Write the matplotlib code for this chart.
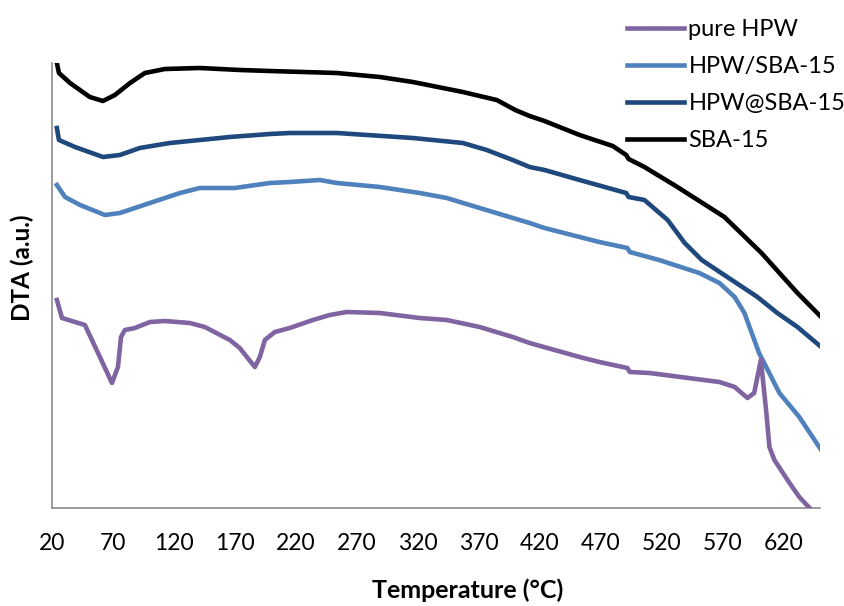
import matplotlib.pyplot as plt

plt.rcParams['font.family'] = ['Lato', 'DejaVu Sans']

# temperature (°C) and DTA signal (a.u.)
t_sba = [24, 25.7, 34.8, 51, 61.8, 71.6, 84, 96.2, 112.6, 141.3, 174.1, 198.7, 253.6,
         288.9, 316, 357, 384.8, 400, 411.8, 424, 452.8, 480, 491, 493, 506, 533, 571.6,
         602, 631.5, 651]
y_sba = [445, 435, 425, 411, 407, 413, 425, 435, 439, 440, 438, 437, 435,
         431, 426, 416, 408, 398, 392, 387, 373, 362, 353, 349, 341, 321, 291,
         255, 215, 191]

t_at = [24, 25.7, 38.9, 61.8, 75.7, 92, 116.7, 141.3, 165.9, 198.7, 215, 253.6, 316,
        357, 376.6, 397.9, 411.8, 424, 452.8, 491, 493, 506, 525, 539, 553, 569,
        598.7, 615, 631.5, 651]
y_at = [380, 368, 361, 351, 353, 360, 365, 368, 371, 374, 375, 375, 370,
        365, 358, 348, 341, 338, 328, 315, 311, 308, 288, 265, 248, 235,
        211, 195, 181, 161]

t_slash = [24, 30.7, 43, 63.4, 75.7, 100.3, 125, 141.3, 170, 198.7, 215, 239.7, 253.6,
           288.9, 321.6, 343.8, 370.8, 411.8, 424, 452.8, 469, 492, 494, 518, 551,
           567.5, 580, 588, 600, 616.7, 633, 651]
y_slash = [323, 311, 303, 293, 295, 305, 315, 320, 320, 325, 326, 328, 325,
           321, 315, 310, 300, 285, 280, 271, 266, 260, 256, 248, 235,
           225, 211, 195, 155, 115, 91, 58]

t_pure = [24, 28.2, 38.9, 47, 59.3, 69.2, 74.1, 76.6, 79.8, 88, 100.3, 112.6, 133,
          145.4, 165.9, 174, 186.4, 190.5, 194.6, 202.8, 215, 234, 247.9, 261.8,
          288.9, 321.6, 343.8, 370.8, 397.9, 411.8, 452.8, 469, 492, 494, 510,
          567.5, 580, 590.5, 596, 601.5, 606, 608.5, 612.6, 625, 633, 643]
y_pure = [208, 190, 186, 183, 151, 125, 141, 171, 178, 180, 186, 187, 185,
          181, 168, 160, 141, 151, 168, 176, 180, 188, 193, 196,
          195, 190, 188, 181, 171, 165, 151, 146, 140, 136, 135,
          126, 121, 110, 115, 148, 95, 61, 48, 25, 11, -2]

fig = plt.figure(figsize=(8.45, 6.06), dpi=100)
ax = fig.add_axes([52 / 845, 98 / 606, 768 / 845, 445 / 606])

lw = 3.3
ax.plot(t_slash, y_slash, color='#4F81BD', lw=lw, label='HPW/SBA-15', zorder=2)
ax.plot(t_at, y_at, color='#1F497D', lw=lw, label='HPW@SBA-15', zorder=3)
ax.plot(t_sba, y_sba, color='black', lw=lw, label='SBA-15', zorder=4)
ax.plot(t_pure, y_pure, color='#8064A2', lw=lw, label='pure HPW', zorder=5)

ax.set_xlim(20, 650)
ax.set_ylim(0, 445)
ax.set_xticks(range(20, 650, 50))
ax.set_yticks([])
ax.tick_params(axis='x', length=0, pad=18, labelsize=16.5)
for s in ['top', 'right']:
    ax.spines[s].set_visible(False)
for s in ['left', 'bottom']:
    ax.spines[s].set_color('#8c8c8c')
    ax.spines[s].set_linewidth(1.2)

fig.text(468 / 845, 1 - 590 / 606, 'Temperature (°C)', ha='center', va='center',
         fontsize=18, fontweight='bold')
fig.text(22 / 845, 1 - 268 / 606, 'DTA (a.u.)', ha='center', va='center',
         rotation=90, fontsize=17.5, fontweight='bold')

h, l = ax.get_legend_handles_labels()
order = [3, 0, 1, 2]
fig.legend([h[i] for i in order], [l[i] for i in order], loc='upper left',
           bbox_to_anchor=(627 / 845, 1 - 19 / 606), frameon=False, fontsize=17,
           handlelength=2.4, handletextpad=0.2, labelspacing=0.68,
           borderpad=0, borderaxespad=0)

fig.savefig('out.png', dpi=100)
